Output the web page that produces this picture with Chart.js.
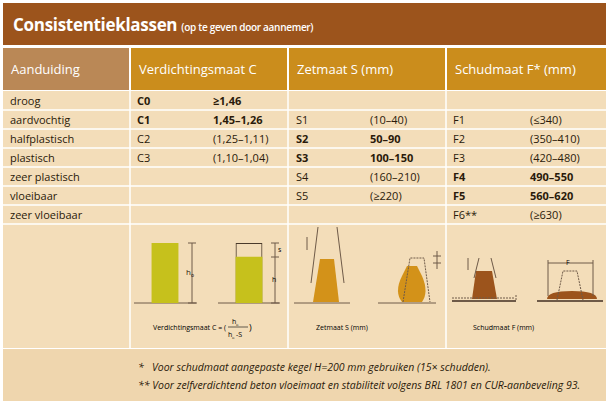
<!DOCTYPE html>
<html><head><meta charset="utf-8">
<script src="https://cdn.jsdelivr.net/npm/chart.js@4/dist/chart.umd.min.js"></script>
<style>
body{margin:0;width:609px;height:404px;background:#fff;font-family:"Open Sans","Noto Sans",sans-serif;position:relative;overflow:hidden}
.abs{position:absolute}
#title{left:3px;top:3px;width:603px;height:42px;background:#9c541c;color:#fff}
#title b{position:absolute;left:10px;top:10px;font-size:17px;font-weight:700;letter-spacing:-0.3px}
#title span{font-size:10px;font-weight:600}
.hd{top:48px;height:42px;background:#cb8d1c;color:#fff;font-size:13px;line-height:42px;padding-left:8px;box-sizing:border-box}
.cell{font-size:11px;color:#2a1a0a;line-height:19px;white-space:nowrap}
.bold{font-weight:700}
#body{left:3px;top:91px;width:603px;height:257px;background:#f3ddb9}
#foot{left:3px;top:349px;width:603px;height:52px;background:#efd6ae;font-style:italic;font-size:10.5px;color:#2a1a0a}
.cap{font-size:7px;color:#2a1a0a}
</style></head><body>
<div id="title" class="abs"><b>Consistentieklassen <span>(op te geven door aannemer)</span></b></div>
<div class="abs hd" style="left:3px;width:126px;background:#ba8856">Aanduiding</div>
<div class="abs hd" style="left:131px;width:156px">Verdichtingsmaat C</div>
<div class="abs hd" style="left:289px;width:156px">Zetmaat S (mm)</div>
<div class="abs hd" style="left:447px;width:159px">Schudmaat F* (mm)</div>
<div id="body" class="abs"></div>
<div id="rows"></div>
<svg class="abs" style="left:0;top:0" width="609" height="404" id="lines"></svg>
<canvas id="cv" class="abs" style="left:123px;top:243px;width:168px;height:60px"></canvas>
<div id="foot" class="abs">
<div class="abs" style="left:135px;top:11px">*&nbsp;&nbsp;&nbsp;Voor schudmaat aangepaste kegel H=200 mm gebruiken (15× schudden).</div>
<div class="abs" style="left:135px;top:29px">**&nbsp;Voor zelfverdichtend beton vloeimaat en stabiliteit volgens BRL 1801 en CUR-aanbeveling 93.</div>
</div>
<script>
const names = ['droog','aardvochtig','halfplastisch','plastisch','zeer plastisch','vloeibaar','zeer vloeibaar']
const cClass = ['C0','C1','C2','C3','','','']
const cValue = ['≥1,46','1,45–1,26','(1,25–1,11)','(1,10–1,04)','','','']
const sClass = ['','S1','S2','S3','S4','S5','']
const sValue = ['','(10–40)','50–90','100–150','(160–210)','(≥220)','']
const fClass = ['','F1','F2','F3','F4','F5','F6**']
const fValue = ['','(≤340)','(350–410)','(420–480)','490–550','560–620','(≥630)']
const cBold = [true,true,false,false,false,false,false]
const sBold = [false,false,true,true,false,false,false]
const fBold = [false,false,false,false,true,true,false]
const colLabels = ['h0','h']
const colValues = [1.0,0.77]
const boxValues = [null,1.0]

const rows = document.getElementById('rows')
const top0 = 91, rh = 19
function put(x,y,t,b){
  if(!t) return
  const d = document.createElement('div')
  d.className = 'abs cell' + (b ? ' bold' : '')
  d.style.left = x + 'px'; d.style.top = y + 'px'; d.textContent = t
  rows.appendChild(d)
}
names.forEach((n,i) => {
  const y = top0 + i*rh
  put(10,y,n,false)
  put(137,y,cClass[i],cBold[i]); put(213,y,cValue[i],cBold[i])
  put(296,y,sClass[i],sBold[i]); put(370,y,sValue[i],sBold[i])
  put(453,y,fClass[i],fBold[i]); put(530,y,fValue[i],fBold[i])
})

// grid lines + illustrations
let s = ''
for (let i=1;i<=7;i++){ const y=top0+i*rh; s+=`<line x1="3" x2="606" y1="${y}" y2="${y}" stroke="#fff" stroke-width="1.5"/>` }
;[130,288,446].forEach(x => s+=`<line x1="${x}" x2="${x}" y1="48" y2="348" stroke="#fff" stroke-width="1.5"/>`)
const g='#6e5a48'
s+=`<line x1="134" x2="197" y1="303" y2="303" stroke="${g}"/><line x1="218" x2="280" y1="303" y2="303" stroke="${g}"/>`
s+=`<path d="M188 243h8M192 243v60M188 303h8M271 243h8M271 257h8M275 243v60M271 303h8" stroke="${g}" fill="none"/>`
s+=`<text x="186" y="275" font-size="8" fill="#2a1a0a">h</text><text x="191" y="277" font-size="5">o</text>`
s+=`<text x="278" y="252" font-size="7">s</text><text x="272" y="282" font-size="7">h</text>`
s+=`<text x="153" y="330" class="cap" font-size="7">Verdichtingsmaat C = (</text><text x="232" y="324" font-size="7">h</text><text x="236" y="326" font-size="4">o</text><line x1="228" x2="248" y1="327" y2="327" stroke="#000" stroke-width=".6"/><text x="228" y="337" font-size="7">h</text><text x="232" y="339" font-size="4">o</text><text x="236" y="337" font-size="7">-S</text><text x="249" y="331" font-size="9">)</text>`
s+=`<line x1="294" x2="350" y1="303" y2="303" stroke="${g}"/><line x1="378" x2="436" y1="303" y2="303" stroke="${g}"/>`
s+=`<path d="M313 302l7-43h14l5 43z" fill="#d39219"/><path d="M311 283l7-56M344 283l-7-56M307 250v-13" stroke="${g}" fill="none"/>`
s+=`<path d="M402 302q-8-10 0-26l5-10h10l5 10q7 16 0 26z" fill="#d39219"/><path d="M403 302l7-44h14l6 44" stroke="${g}" stroke-dasharray="2 1" fill="none"/><path d="M433 256h8M433 263h8M437 251v18" stroke="${g}"/>`
s+=`<text x="316" y="330" font-size="7">Zetmaat S (mm)</text>`
s+=`<line x1="452" x2="516" y1="301" y2="301" stroke="${g}" stroke-width="2"/><line x1="537" x2="603" y1="301" y2="301" stroke="${g}" stroke-width="2"/>`
s+=`<path d="M472 299l4-28h16l5 28z" fill="#9c541c"/><path d="M474 278l5-20M496 278l-5-20M468 270v-12" stroke="${g}" fill="none"/><path d="M452 298h63M516 295v6" stroke="${g}" stroke-dasharray="2 1" fill="none"/>`
s+=`<path d="M547 299q0-8 25-8t25 8z" fill="#9c541c"/><path d="M557 300l6-29h14l6 29" stroke="${g}" stroke-dasharray="2 1" fill="none"/><path d="M548 263h45M548 260v36M593 260v36" stroke="${g}" fill="none"/><text x="566" y="265" font-size="7">F</text>`
s+=`<text x="473" y="330" font-size="7">Schudmaat F (mm)</text>`
document.getElementById('lines').innerHTML = s

new Chart(document.getElementById('cv'), {
  type: 'bar',
  data: {
    labels: colLabels,
    datasets: [
      { data: colValues, backgroundColor: '#c6c11c', grouped: false, barPercentage: 0.32, categoryPercentage: 1 },
      { data: boxValues, backgroundColor: 'rgba(0,0,0,0)', borderColor: '#4a3a2a', borderWidth: 1, grouped: false, barPercentage: 0.32, categoryPercentage: 1 }
    ]
  },
  options: {
    responsive: false, animation: false, maintainAspectRatio: false,
    layout: { padding: 0 },
    plugins: { legend: { display: false }, tooltip: { enabled: false } },
    scales: { x: { display: false }, y: { display: false, min: 0, max: 1 } }
  }
})
</script>
</body></html>
